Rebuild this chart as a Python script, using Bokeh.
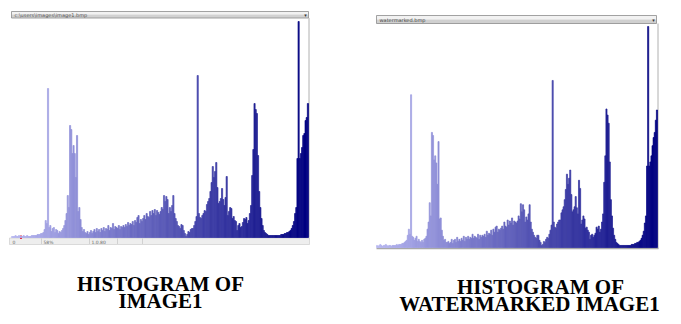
from bokeh.plotting import figure
from bokeh.models import Range1d
from bokeh.embed import file_html
from bokeh.resources import INLINE
from bokeh.core.properties import value

# ---------------- data ----------------
bins = list(range(256))

image1_counts = [
    1, 1, 1, 2, 1, 1, 2, 1, 1, 1, 2, 1, 1, 2, 1, 1,
    1, 2, 2, 2, 2, 2, 3, 3, 3, 4, 4, 5, 8, 17, 14, 149,
    10, 12, 6, 9, 10, 5, 8, 7, 4, 6, 5, 7, 9, 12, 17, 24,
    42, 30, 112, 108, 84, 92, 84, 60, 102, 26, 30, 18, 10, 6, 8, 5,
    4, 6, 3, 5, 7, 4, 6, 8, 5, 9, 6, 8, 5, 9, 7, 10,
    6, 9, 8, 12, 7, 10, 9, 14, 8, 11, 10, 9, 12, 8, 11, 10,
    12, 10, 13, 11, 15, 12, 14, 13, 16, 12, 17, 15, 20, 22, 14, 18,
    16, 19, 22, 18, 24, 21, 20, 26, 22, 27, 24, 28, 22, 27, 25, 23,
    26, 30, 28, 42, 36, 41, 38, 24, 30, 26, 32, 42, 24, 19, 16, 12,
    11, 9, 13, 12, 7, 4, 1, 3, 6, 5, 8, 9, 9, 12, 16, 21,
    162, 24, 20, 19, 22, 24, 27, 26, 33, 36, 39, 46, 55, 71, 60, 66,
    75, 50, 34, 36, 39, 49, 38, 32, 40, 61, 22, 26, 30, 29, 19, 21,
    17, 16, 7, 12, 14, 10, 11, 15, 19, 18, 20, 14, 17, 24, 32, 62,
    88, 134, 128, 124, 82, 46, 30, 19, 12, 7, 5, 4, 3, 2, 2, 2,
    2, 2, 2, 2, 2, 2, 2, 2, 3, 3, 3, 4, 4, 5, 5, 6,
    7, 9, 12, 16, 24, 30, 79, 216, 79, 84, 90, 102, 104, 117, 120, 134,
]

watermarked_counts = [
    2, 1, 2, 3, 2, 1, 2, 2, 3, 2, 1, 2, 2, 1, 2, 2,
    2, 2, 3, 2, 3, 3, 3, 4, 4, 5, 6, 7, 12, 18, 13, 150,
    11, 10, 7, 9, 11, 6, 8, 6, 5, 7, 5, 8, 9, 11, 18, 25,
    44, 31, 113, 110, 86, 90, 83, 62, 104, 28, 29, 17, 11, 7, 8, 5,
    5, 6, 4, 5, 8, 4, 7, 8, 5, 10, 6, 8, 6, 9, 7, 11,
    6, 10, 8, 11, 8, 10, 9, 13, 9, 11, 10, 9, 13, 8, 12, 10,
    12, 11, 13, 10, 16, 12, 14, 13, 17, 12, 18, 15, 20, 21, 15, 18,
    17, 19, 21, 18, 25, 21, 20, 27, 22, 26, 24, 29, 22, 26, 25, 24,
    26, 31, 28, 43, 35, 42, 37, 25, 30, 27, 33, 42, 25, 18, 15, 12,
    10, 9, 12, 12, 7, 5, 2, 3, 6, 5, 8, 10, 9, 13, 17, 22,
    164, 25, 20, 19, 23, 25, 27, 27, 34, 37, 40, 47, 57, 72, 62, 68,
    76, 52, 35, 37, 40, 50, 39, 33, 66, 58, 23, 27, 31, 28, 19, 20,
    17, 15, 8, 12, 13, 10, 12, 14, 20, 18, 21, 15, 18, 25, 33, 64,
    90, 136, 130, 122, 84, 47, 31, 19, 12, 8, 5, 4, 3, 2, 2, 2,
    2, 2, 2, 2, 2, 2, 2, 2, 3, 3, 3, 4, 4, 5, 5, 6,
    7, 9, 12, 16, 24, 31, 80, 217, 80, 84, 90, 100, 108, 113, 125, 135,
]

caption_left = ["HISTOGRAM OF", "IMAGE1"]
caption_right = ["HISTOGRAM OF", "WATERMARKED IMAGE1"]
header_left = "c:\\users\\images\\image1.bmp"
header_right = "watermarked.bmp"
status_left = ["0", "58%", "1.0.80"]


def shade(i):
    t = i / 255.0
    r = round(182 * (1 - t))
    b = round(240 * (1 - t) + 128 * t)
    return "#%02x%02x%02x" % (r, r, b)


colors = [shade(i) for i in bins]
centers = [b + 0.5 for b in bins]

# ---------------- figure (picture-pixel coordinates) ----------------
W, H = 673, 316
p = figure(width=W, height=H, x_range=Range1d(0, W), y_range=Range1d(H, 0),
           x_axis_type=None, y_axis_type=None, output_backend="svg",
           toolbar_location=None, min_border=0)
p.outline_line_color = None
p.background_fill_color = "white"
p.border_fill_color = "white"

# histogram frames (pixels)
L_left, L_right, L_base = 11, 308, 237
R_left, R_right, R_base = 376, 657, 247
kL = 1.0
kR = 220.0 / 216.0
sL = 256.0 / (L_right - L_left)
sR = 256.0 / (R_right - R_left)

p.extra_x_ranges = {
    "L": Range1d(-L_left * sL, 256 + (W - L_right) * sL),
    "R": Range1d(-R_left * sR, 256 + (W - R_right) * sR),
}
p.extra_y_ranges = {
    "Ly": Range1d(-(H - L_base) / kL, L_base / kL),
    "Ry": Range1d(-(H - R_base) / kR, R_base / kR),
}

# ---- left panel decorations ----
p.quad(left=[L_left], right=[L_right], top=[11], bottom=[14], fill_color="#f2f2f2", line_color=None)
p.quad(left=[L_left], right=[L_right], top=[14], bottom=[17.5], fill_color="#d2d2d2", line_color=None)
p.quad(left=[L_left], right=[L_right], top=[11], bottom=[17.5], fill_color=None, line_color="#8c8c8c", line_width=0.8)
p.text(x=[14], y=[14.5], text=[header_left], text_font=value("DejaVu Sans"), text_font_size="5px",
       text_baseline="middle", text_color="#555555")
p.text(x=[L_right - 3], y=[14.5], text=["\u25be"], text_font=value("DejaVu Sans"), text_font_size="5px",
       text_baseline="middle", text_align="center", text_color="#333333")
p.segment(x0=[L_right + 0.5], y0=[17.5], x1=[L_right + 0.5], y1=[L_base], line_color="#b0b0b0", line_width=1)
# status bar
p.quad(left=[L_left - 2], right=[L_right + 1], top=[L_base + 0.5], bottom=[244], fill_color="#eeeeee", line_color="#c8c8c8", line_width=0.6)
for xs in (41, 89, 117, 142):
    p.segment(x0=[xs], y0=[L_base + 1], x1=[xs], y1=[243.5], line_color="#bdbdbd", line_width=0.6)
p.text(x=[12, 43, 91], y=[241.5, 241.5, 241.5], text=status_left, text_font=value("DejaVu Sans"),
       text_font_size="4.5px", text_baseline="middle", text_color="#666666")
p.quad(left=[19.5], right=[21.5], top=[235], bottom=[238.5], fill_color="#e0304a", line_color=None)

# ---- right panel decorations ----
p.quad(left=[R_left], right=[R_right - 1], top=[15], bottom=[19], fill_color="#f2f2f2", line_color=None)
p.quad(left=[R_left], right=[R_right - 1], top=[19], bottom=[23], fill_color="#d0d0d0", line_color=None)
p.quad(left=[R_left], right=[R_right - 1], top=[15], bottom=[23], fill_color=None, line_color="#8c8c8c", line_width=0.8)
p.text(x=[379], y=[19], text=[header_right], text_font=value("DejaVu Sans"), text_font_size="5px",
       text_baseline="middle", text_color="#444444")
p.text(x=[R_right - 4], y=[19], text=["\u25be"], text_font=value("DejaVu Sans"), text_font_size="5px",
       text_baseline="middle", text_align="center", text_color="#333333")
p.segment(x0=[R_right + 0.5], y0=[23], x1=[R_right + 0.5], y1=[R_base + 1], line_color="#b0b0b0", line_width=1)
p.segment(x0=[R_left], y0=[R_base + 1], x1=[R_right + 1], y1=[R_base + 1], line_color="#a8a8a8", line_width=1.5)

# ---- histograms ----
p.vbar(x=centers, top=image1_counts, bottom=0, width=1.0, fill_color=colors, line_color=colors,
       line_width=0.7, x_range_name="L", y_range_name="Ly")
p.vbar(x=centers, top=watermarked_counts, bottom=0, width=1.0, fill_color=colors, line_color=colors,
       line_width=0.7, x_range_name="R", y_range_name="Ry")

# ---- captions ----
cap_font = value("Liberation Serif")
p.text(x=[160, 160], y=[283, 300], text=caption_left, text_font=cap_font, text_font_size="21px",
       text_font_style="bold", text_align="center", text_baseline="alphabetic", text_color="#000000")
p.text(x=[540, 529], y=[286, 303], text=caption_right, text_font=cap_font, text_font_size="21px",
       text_font_style="bold", text_align="center", text_baseline="alphabetic", text_color="#000000")

open("out.html", "w").write(file_html(p, INLINE))
